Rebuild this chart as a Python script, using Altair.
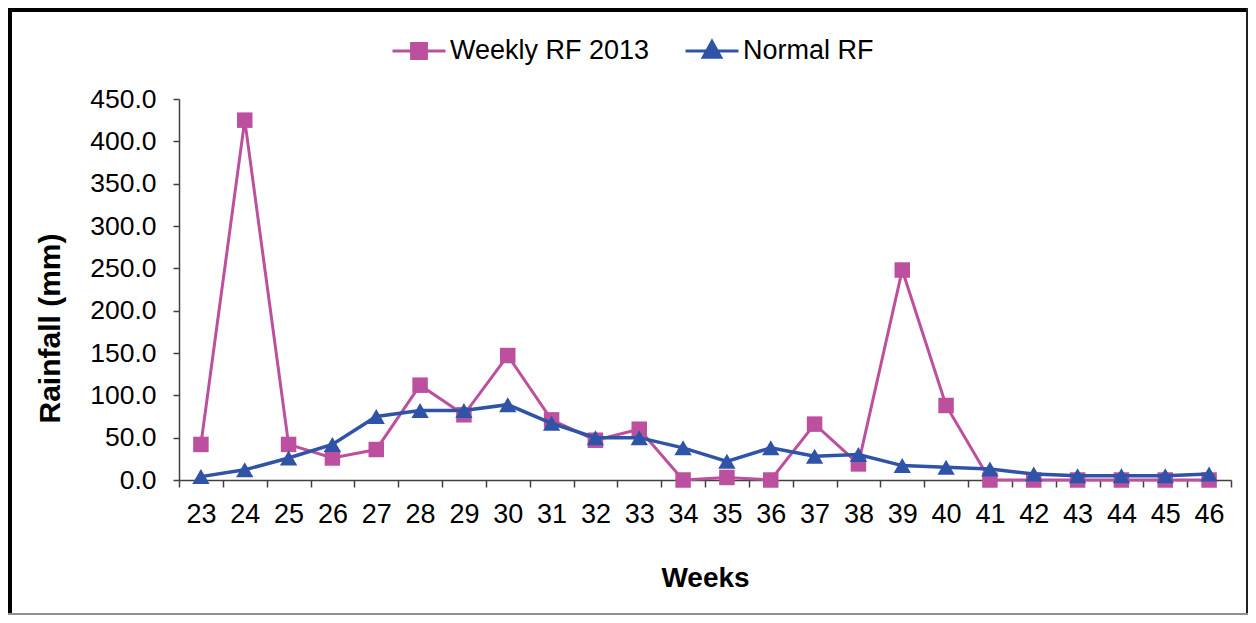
import altair as alt
import pandas as pd

weeks = list(range(23, 47))
weekly_rf_2013 = [42, 425, 42, 26, 36, 112, 77, 147, 71, 47, 60, 0,
                  3, 0, 66, 19, 248, 88, 0, 0, 0, 0, 0, 0]
normal_rf = [4, 12, 26, 42, 75, 82, 82, 89, 67, 50, 50, 38,
             22, 38, 28, 30, 17, 15, 13, 7, 5, 5, 5, 7]
series_names = ["Weekly RF 2013", "Normal RF"]
series_colors = ["#BC4F9E", "#2F53A7"]
y_ticks = [0, 50, 100, 150, 200, 250, 300, 350, 400, 450]

rows = []
for w, v in zip(weeks, weekly_rf_2013):
    rows.append({"week": w, "series": series_names[0], "value": v})
for w, v in zip(weeks, normal_rf):
    rows.append({"week": w, "series": series_names[1], "value": v})
df = pd.DataFrame(rows)

FONT = "Liberation Sans"
W, H = 1052, 381
PAD_L, PAD_T, PAD_R, PAD_B = 171, 91, 17, 135

sym_paths = ["M-1,0L1,0M-0.28,-0.28L0.28,-0.28L0.28,0.28L-0.28,0.28Z",
             "M-1,0L1,0M0,-0.36L0.33,0.24L-0.33,0.24Z"]
legend_x = [212, 505]

x_enc = alt.X(
    "week:O", bandPosition=0.5,
    scale=alt.Scale(type="band", paddingInner=0, paddingOuter=0),
    axis=alt.Axis(
        title="Weeks", labelAngle=0, tickBand="extent", tickSize=7,
        labelPadding=14, labelFont=FONT, labelFontSize=27, labelColor="black",
        titleFont=FONT, titleFontSize=28, titleFontWeight="bold", titleColor="black",
        titleY=84, titleBaseline="top",
        domainColor="#404040", tickColor="#404040", domainWidth=1.5, tickWidth=1.5,
    ),
)
y_enc = alt.Y(
    "value:Q",
    scale=alt.Scale(domain=[0, 450], nice=False),
    axis=alt.Axis(
        title="Rainfall (mm)", values=y_ticks, format=".1f", grid=False,
        tickSize=6, labelPadding=17, labelFont=FONT, labelFontSize=26.5,
        labelColor="black", titleFont=FONT, titleFontSize=30,
        titleFontWeight="bold", titleColor="black", titleX=-114, titleY=229,
        domainColor="#404040", tickColor="#404040", domainWidth=1.5, tickWidth=1.5,
    ),
)

base = alt.Chart(df)
series_layers = []
shapes = ["square", "triangle-up"]
widths = [3, 3.5]
sizes = [240, 300]
for i, name in enumerate(series_names):
    legend = alt.Legend(
        title=None, orient="none", legendX=legend_x[i], legendY=-76,
        labelFont=FONT, labelFontSize=27, labelColor="black", labelLimit=400,
        symbolSize=2809, symbolStrokeWidth=3, labelOffset=3,
        symbolType=sym_paths[i], symbolFillColor=series_colors[i],
        symbolStrokeColor=series_colors[i], symbolOpacity=1,
    )
    color_enc = alt.Color(
        "series:N",
        scale=alt.Scale(domain=[name], range=[series_colors[i]]),
        legend=legend,
    )
    sub = base.transform_filter(alt.datum.series == name)
    ln = sub.mark_line(strokeWidth=widths[i]).encode(x=x_enc, y=y_enc, color=color_enc)
    pt = sub.mark_point(shape=shapes[i], filled=True, size=sizes[i], opacity=1).encode(
        x=x_enc, y=y_enc, color=color_enc)
    series_layers.append(alt.layer(ln, pt))

one = alt.Data(values=[{"a": 1}])
frame_left = alt.Chart(one).mark_rule(color="black", strokeWidth=4).encode(
    x=alt.value(-PAD_L + 2), y=alt.value(-PAD_T), y2=alt.value(H + PAD_B))
frame_top = alt.Chart(one).mark_rule(color="black", strokeWidth=4).encode(
    x=alt.value(-PAD_L), x2=alt.value(W + PAD_R), y=alt.value(-PAD_T + 2))
frame_right = alt.Chart(one).mark_rule(color="#202020", strokeWidth=2).encode(
    x=alt.value(W + PAD_R - 1), y=alt.value(-PAD_T), y2=alt.value(H + PAD_B))
frame_bottom = alt.Chart(one).mark_rule(color="#909090", strokeWidth=2).encode(
    x=alt.value(-PAD_L), x2=alt.value(W + PAD_R), y=alt.value(H + PAD_B - 1))

chart = alt.layer(
    *series_layers, frame_left, frame_top, frame_right, frame_bottom
).resolve_scale(color="independent").properties(
    width=W, height=H,
    background="white",
    autosize=alt.AutoSizeParams(type="none"),
    padding={"left": PAD_L, "top": PAD_T, "right": PAD_R, "bottom": PAD_B},
).configure_view(strokeWidth=0)

chart.save("out.html", embed_options={"renderer": "svg", "actions": False})
